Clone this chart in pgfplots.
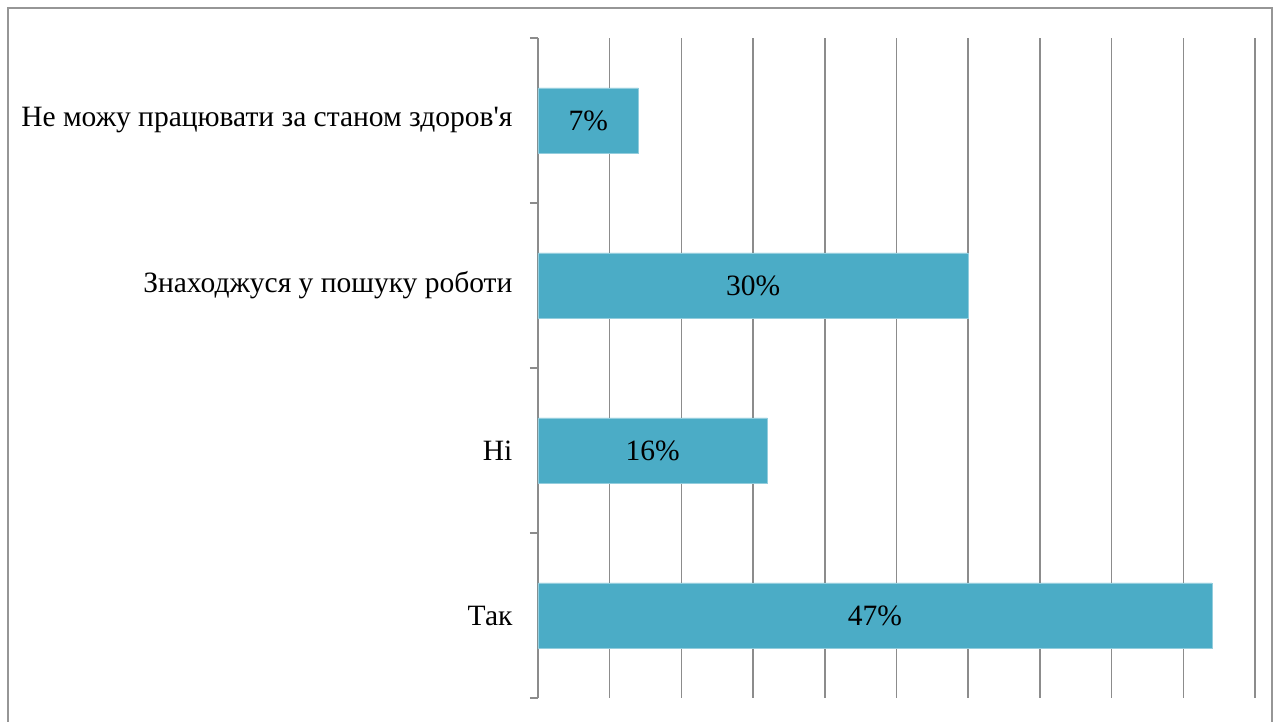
\documentclass[border=0pt]{standalone}
\usepackage{pgfplots}
\pgfplotsset{compat=1.18}
\usepackage{pgfplotstable}
\usepackage{fontspec}
\setmainfont{Liberation Serif}
\definecolor{barc}{RGB}{75,172,198}
\definecolor{gridc}{RGB}{140,140,140}
\definecolor{framec}{RGB}{150,150,150}
\pgfplotstableread{
pos v
0 47
1 16
2 30
3 7
}\datatable
\begin{document}
\begin{tikzpicture}
\useasboundingbox (0,0) rectangle (637.5pt,361pt);
\draw[framec, line width=1pt] (4pt,-5pt) -- (4pt,357pt) -- (636pt,357pt) -- (636pt,-5pt);
\begin{axis}[
  at={(269pt,12pt)}, anchor=south west,
  scale only axis, width=358.5pt, height=330pt,
  xmin=0, xmax=50, ymin=-0.5, ymax=3.5,
  /pgf/number format/assume math mode=true,
  xtick={0,5,...,50}, xticklabels={},
  xmajorgrids, major grid style={gridc, line width=0.8pt},
  major x tick style={draw=none},
  axis y line*=left, axis x line*=bottom,
  x axis line style={draw=none},
  y axis line style={gridc, line width=0.8pt},
  ytick={0,1,2,3},
  yticklabels={Так, Ні, Знаходжуся у пошуку роботи, Не можу працювати за станом здоров\textquotesingle я},
  major y tick style={draw=none},
  minor ytick={-0.5,0.5,1.5,2.5,3.5},
  minor y tick style={gridc, line width=0.8pt},
  minor tick length=4pt,
  tick align=outside,
  yticklabel style={font=\fontsize{14.75}{17}\selectfont, text=black, xshift=-5pt},
  clip=false,
]
\addplot[xbar, bar width=32.5pt, bar shift=0pt, fill=barc, draw=barc!60!white, line width=0.3pt] table[x=v, y=pos] {\datatable};
\addplot[draw=none, mark=none, nodes near coords={\pgfmathprintnumber{\pgfplotspointmeta}\%},
  point meta=\thisrow{v},
  every node near coord/.style={anchor=center, font=\fontsize{14.75}{17}\selectfont, text=black}]
  table[x expr=\thisrow{v}/2, y=pos] {\datatable};
\end{axis}
\end{tikzpicture}
\end{document}
